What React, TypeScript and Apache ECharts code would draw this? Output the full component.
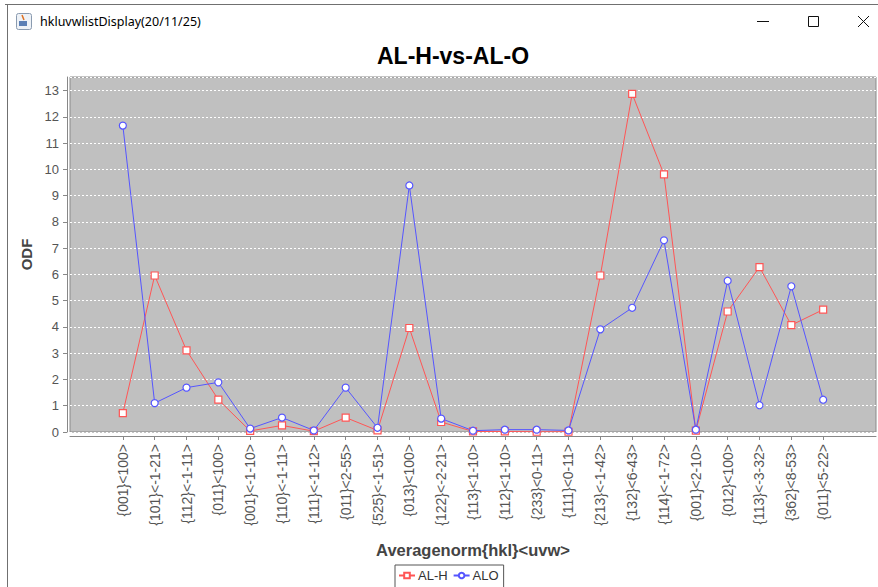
import React, { useEffect, useRef } from "react";
import * as echarts from "echarts";

const categories = [
  "{001}<100>", "{101}<-1-21>", "{112}<-1-11>", "{011}<100>", "{001}<-1-10>",
  "{110}<-1-11>", "{111}<-1-12>", "{011}<2-55>", "{525}<-1-51>", "{013}<100>",
  "{122}<-2-21>", "{113}<1-10>", "{112}<1-10>", "{233}<0-11>", "{111}<0-11>",
  "{213}<-1-42>", "{132}<6-43>", "{114}<-1-72>", "{001}<2-10>", "{012}<100>",
  "{113}<-3-32>", "{362}<8-53>", "{011}<5-22>",
];
const alH = [0.72, 5.96, 3.11, 1.23, 0.04, 0.25, 0.03, 0.55, 0.06, 3.96, 0.38, 0.02, 0.02, 0.01, 0.01, 5.96, 12.88, 9.81, 0.05, 4.59, 6.28, 4.07, 4.66];
const alo = [11.67, 1.1, 1.69, 1.89, 0.13, 0.55, 0.06, 1.69, 0.16, 9.39, 0.51, 0.05, 0.09, 0.09, 0.06, 3.91, 4.73, 7.3, 0.09, 5.76, 1.02, 5.55, 1.23];
const seriesNames = ["AL-H", "ALO"];
const windowTitle = "hkluvwlistDisplay(20/11/25)";
const chartTitle = "AL-H-vs-AL-O";

export default function App() {
  const ref = useRef<HTMLDivElement>(null);
  useEffect(() => {
    if (!ref.current) return;
    const chart = echarts.init(ref.current, null, { renderer: "svg" });
    const idx = categories.map((_, i) => i);
    const font = "'Liberation Sans', Arial, sans-serif";
    chart.setOption({
      animation: false,
      backgroundColor: "#ffffff",
      textStyle: { fontFamily: font },
      title: {
        text: chartTitle,
        left: 448,
        textAlign: "center",
        top: 39,
        textStyle: { fontSize: 23, fontWeight: "bold", color: "#000", fontFamily: font },
      },
      legend: {
        left: 395,
        top: 565,
        data: seriesNames,
        borderColor: "#555",
        borderWidth: 1,
        padding: [4, 5, 10, 3],
        itemGap: 5,
        itemWidth: 16,
        itemHeight: 7,
        textStyle: { fontSize: 13, color: "#333", padding: [0, 0, 0, -2] },
      },
      grid: {
        left: 70,
        right: 2,
        top: 77,
        bottom: 155,
        show: true,
        backgroundColor: "#c0c0c0",
        borderColor: "#8a8a8a",
        borderWidth: 1,
      },
      xAxis: {
        type: "value",
        min: -1.66,
        max: 23.66,
        offset: 4,
        name: "Averagenorm{hkl}<uvw>",
        nameLocation: "middle",
        nameGap: 105,
        nameTextStyle: { fontSize: 16.5, fontWeight: "bold", color: "#444", fontFamily: font },
        axisLine: { show: true, onZero: false, lineStyle: { color: "#888", width: 1 } },
        axisTick: { show: true, length: 4, customValues: idx, lineStyle: { color: "#888" } },
        axisLabel: {
          customValues: idx,
          rotate: 90,
          margin: 8,
          fontSize: 14,
          color: "#555",
          fontFamily: font,
          formatter: (v: number) => categories[Math.round(v)] ?? "",
        },
        splitLine: { show: false },
      },
      yAxis: {
        type: "value",
        min: 0,
        max: 13.52,
        interval: 1,
        offset: 3,
        name: "ODF",
        nameLocation: "middle",
        nameGap: 29,
        nameTextStyle: { fontSize: 15, fontWeight: "bold", color: "#444", fontFamily: font },
        axisLine: { show: true, onZero: false, lineStyle: { color: "#888", width: 1 } },
        axisTick: { show: true, length: 4, lineStyle: { color: "#888" } },
        axisLabel: { fontSize: 13, color: "#555", margin: 8, showMaxLabel: false, fontFamily: font },
        splitLine: { show: true, lineStyle: { color: "#ffffff", type: [2, 2], width: 1 } },
      },
      series: [
        {
          name: seriesNames[0],
          type: "line",
          data: alH.map((v, i) => [i, v]),
          symbol: "rect",
          symbolSize: 7,
          showAllSymbol: true,
          lineStyle: { color: "#ff5555", width: 1 },
          itemStyle: { color: "#ffffff", borderColor: "#ff5555", borderWidth: 1.2 },
        },
        {
          name: seriesNames[1],
          type: "line",
          data: alo.map((v, i) => [i, v]),
          symbol: "circle",
          symbolSize: 7,
          showAllSymbol: true,
          lineStyle: { color: "#5555ff", width: 1 },
          itemStyle: { color: "#ffffff", borderColor: "#5555ff", borderWidth: 1.2 },
        },
      ],
      graphic: [
        { type: "line", shape: { x1: 5, y1: 4.5, x2: 878, y2: 4.5 }, style: { stroke: "#707070", lineWidth: 1 } },
        { type: "line", shape: { x1: 7.5, y1: 5, x2: 7.5, y2: 587 }, style: { stroke: "#707070", lineWidth: 1 } },
        { type: "rect", shape: { x: 16.5, y: 13.5, width: 15, height: 16, r: 2 }, style: { fill: "#eef2f7", stroke: "#8a9bb0", lineWidth: 1 } },
        { type: "rect", shape: { x: 19, y: 21, width: 8, height: 5 }, style: { fill: "#5b7fb5" } },
        { type: "line", shape: { x1: 22, y1: 15, x2: 24, y2: 20 }, style: { stroke: "#e07020", lineWidth: 1.5 } },
        {
          type: "text",
          x: 40,
          y: 21,
          style: { text: windowTitle, fontSize: 12.5, fill: "#000", fontFamily: "'Noto Sans', sans-serif", verticalAlign: "middle" },
        },
        { type: "line", shape: { x1: 757, y1: 21.5, x2: 769, y2: 21.5 }, style: { stroke: "#111", lineWidth: 1 } },
        { type: "rect", shape: { x: 808.5, y: 16.5, width: 10, height: 10 }, style: { fill: "none", stroke: "#111", lineWidth: 1 } },
        { type: "line", shape: { x1: 858, y1: 16, x2: 869, y2: 27 }, style: { stroke: "#111", lineWidth: 1 } },
        { type: "line", shape: { x1: 869, y1: 16, x2: 858, y2: 27 }, style: { stroke: "#111", lineWidth: 1 } },
      ],
    });
    return () => chart.dispose();
  }, []);
  return (
    <div
      ref={ref}
      style={{ position: "fixed", left: 0, top: 0, width: 878, height: 587 }}
    />
  );
}
